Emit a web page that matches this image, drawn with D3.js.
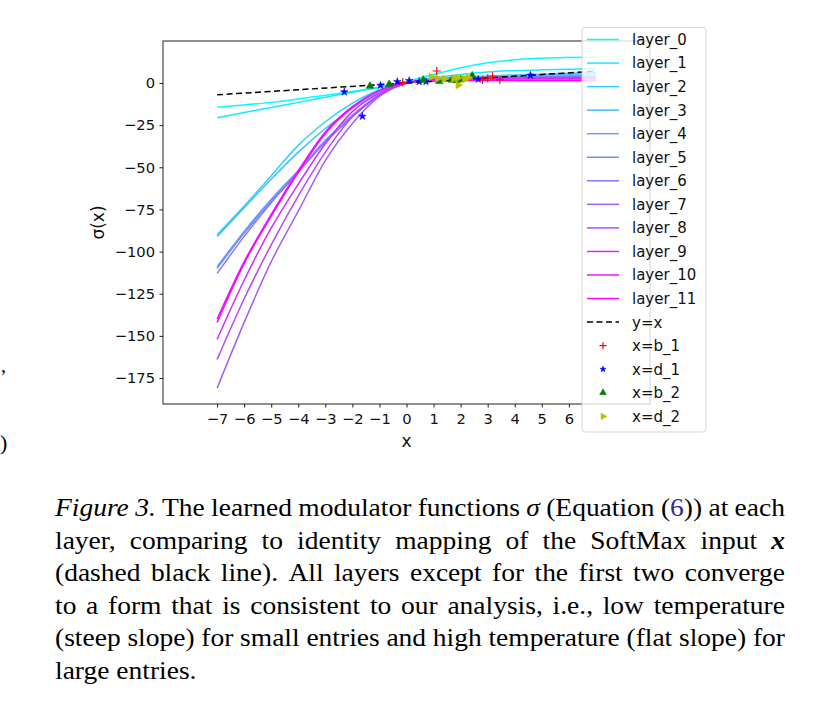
<!DOCTYPE html>
<html><head><meta charset="utf-8">
<script src="https://cdn.jsdelivr.net/npm/d3@7"></script>
<style>body{margin:0;background:#fff}</style>
</head><body><svg id="c" width="814" height="720" xmlns="http://www.w3.org/2000/svg"></svg>
<script>
// ---------- data ----------
const xGrid = [-7,-6,-5,-4,-3,-2,-1,0,1,2,3,4,5,6,7];
const layer_0  = [-14.4,-13,-11.5,-9.5,-7.3,-5,-2.5,1,5,9,12,13.8,14.7,15.1,15.3];
const layer_1  = [-20.6,-17.5,-14.5,-11.5,-8.5,-5.5,-2.5,0.5,3,5,6.5,7.3,7.8,8.1,8.3];
const layer_2  = [-90,-73,-55,-37,-23,-12,-4,0.5,2.5,3.5,4.2,4.8,5.3,5.7,6];
const layer_3  = [-91,-74,-57,-41,-27,-15,-5.5,0,2,3,3.8,4.4,4.8,5.2,5.5];
const layer_4  = [-109,-88,-69,-52,-35,-20,-7,0,2,3,3.5,3.8,4,4.2,4.3];
const layer_5  = [-110,-89,-70,-52,-34,-19,-7,-0.3,1.8,2.8,3.3,3.6,3.8,4,4.1];
const layer_6  = [-113,-91,-71,-53,-35,-20,-7.5,0,2,2.7,3.1,3.4,3.6,3.7,3.8];
const layer_7  = [-181,-142,-106,-76,-46,-24,-8,0,2.2,2.8,3,3.1,3.1,3.2,3.2];
const layer_8  = [-164,-128,-96,-67,-41,-20,-7,0,2,2.5,2.7,2.8,2.8,2.9,2.9];
const layer_9  = [-152,-117,-86,-60,-36,-17,-6,0,1.8,2.3,2.5,2.6,2.6,2.6,2.6];
const layer_10 = [-140,-106,-78,-52,-29,-14,-4.5,0,1.3,1.6,1.7,1.7,1.7,1.7,1.7];
const layer_11 = [-142,-107,-79,-53,-30,-14.5,-4.5,0.3,1.2,1.4,1.4,1.4,1.3,1.3,1.3];
const layers = [layer_0,layer_1,layer_2,layer_3,layer_4,layer_5,layer_6,layer_7,layer_8,layer_9,layer_10,layer_11];
const layerNames = ["layer_0","layer_1","layer_2","layer_3","layer_4","layer_5","layer_6","layer_7","layer_8","layer_9","layer_10","layer_11"];

const identityX = [-7, 7];
const identityY = [-7, 7];

const b1X = [-0.14, 1.12, 2.81, 3.0, 3.18, 3.45];
const b1Y = [0.4, 7.1, 1.8, 2.8, 4.0, 1.8];
const d1X = [-2.30, -1.63, -0.96, -0.34, 0.10, 0.47, 0.72, 2.65, 4.58];
const d1Y = [-5.3, -19.8, -1.4, 0.8, 1.4, 0.8, 0.8, 2.2, 4.6];
const b2X = [-1.35, -0.64, 0.62, 1.21, 1.67, 1.85, 2.0, 2.43];
const b2Y = [-1.8, -0.8, 1.8, 1.0, 1.8, 1.5, 2.0, 4.3];
const d2X = [0.92, 1.15, 1.4, 1.75, 1.9, 1.91, 2.15, 2.28];
const d2Y = [3.7, 2.6, 2.4, 2.6, 3.0, -1.2, 2.6, 3.2];

const xTicks = [-7,-6,-5,-4,-3,-2,-1,0,1,2,3,4,5,6];
const yTicks = [0,-25,-50,-75,-100,-125,-150,-175];

// ---------- setup ----------
const svg = d3.select("#c");
svg.append("rect").attr("width",814).attr("height",720).attr("fill","#fff");
const SANS = "'DejaVu Sans', sans-serif";
const SERIF = "'Liberation Serif', 'Times New Roman', serif";

const X0 = 163, X1 = 650, Y0 = 41, Y1 = 404;
const x = d3.scaleLinear().domain([-9, 9]).range([X0, X1]);
const y = d3.scaleLinear().domain([-190.4, 24.9]).range([Y1, Y0]);

const coolColor = i => { const t = i / 11; return d3.rgb(Math.round(255*t), Math.round(255*(1-t)), 255).toString(); };

svg.append("clipPath").attr("id","clip").append("rect")
  .attr("x",X0).attr("y",Y0).attr("width",X1-X0).attr("height",Y1-Y0);
const plot = svg.append("g").attr("clip-path","url(#clip)");

const line = d3.line().x(d => x(d[0])).y(d => y(d[1])).curve(d3.curveMonotoneX);

layers.forEach((vals, i) => {
  plot.append("path")
    .datum(xGrid.map((xv, k) => [xv, vals[k]]))
    .attr("d", line).attr("fill","none")
    .attr("stroke", coolColor(i)).attr("stroke-width", 1.5);
});

plot.append("path")
  .datum(identityX.map((xv,k)=>[xv, identityY[k]]))
  .attr("d", d3.line().x(d=>x(d[0])).y(d=>y(d[1])))
  .attr("fill","none").attr("stroke","#000").attr("stroke-width",1.5)
  .attr("stroke-dasharray","6,3.5");

// markers
function plus(g, cx, cy, r, col) {
  g.append("path").attr("d", `M${cx-r},${cy}H${cx+r}M${cx},${cy-r}V${cy+r}`)
    .attr("stroke", col).attr("stroke-width", 1.2).attr("fill","none");
}
function sym(g, type, size, cx, cy, col, rot) {
  g.append("path").attr("d", d3.symbol().type(type).size(size)())
    .attr("transform", `translate(${cx},${cy}) rotate(${rot||0})`)
    .attr("fill", col).attr("stroke", col).attr("stroke-width", 0.5);
}
b1X.forEach((v,k) => plus(plot, x(v), y(b1Y[k]), 4, "#ff0000"));
d1X.forEach((v,k) => sym(plot, d3.symbolStar, 18, x(v), y(d1Y[k]), "#0000ff"));
b2X.forEach((v,k) => sym(plot, d3.symbolTriangle, 26, x(v), y(b2Y[k]), "#008000"));
d2X.forEach((v,k) => sym(plot, d3.symbolTriangle, 26, x(v), y(d2Y[k]), "#bfbf00", 90));

// axes
const xAxis = d3.axisBottom(x).tickValues(xTicks).tickSize(3.5).tickPadding(6);
const yAxis = d3.axisLeft(y).tickValues(yTicks).tickSize(3.5).tickPadding(4.5);
const gx = svg.append("g").attr("transform",`translate(0,${Y1})`).call(xAxis);
const gy = svg.append("g").attr("transform",`translate(${X0},0)`).call(yAxis);
[gx, gy].forEach(g => {
  g.select(".domain").remove();
  g.selectAll("line").attr("stroke","#000").attr("stroke-width",0.9);
  g.selectAll("text").attr("font-family",SANS).attr("font-size",14.7).attr("fill","#111");
});
svg.append("rect").attr("x",X0).attr("y",Y0).attr("width",X1-X0).attr("height",Y1-Y0)
  .attr("fill","none").attr("stroke","#222").attr("stroke-width",1);

svg.append("text").attr("x",(X0+X1)/2).attr("y",447).attr("text-anchor","middle")
  .attr("font-family",SANS).attr("font-size",17).attr("fill","#111").text("x");
svg.append("text").attr("transform",`translate(104,${(Y0+Y1)/2}) rotate(-90)`).attr("text-anchor","middle")
  .attr("font-family",SANS).attr("font-size",17).attr("fill","#111").text("σ(x)");

// legend
const lg = svg.append("g");
lg.append("rect").attr("x",582).attr("y",27.5).attr("width",124).attr("height",404.5).attr("rx",3)
  .attr("fill","#fff").attr("fill-opacity",0.8).attr("stroke","#ccc").attr("stroke-opacity",0.8);
const rowY = i => 39.5 + i*23.55;
const entries = layerNames.map((n,i)=>({label:n, kind:"line", color:coolColor(i)}))
  .concat([{label:"y=x", kind:"dash"},{label:"x=b_1", kind:"plus"},{label:"x=d_1", kind:"star"},
           {label:"x=b_2", kind:"tri"},{label:"x=d_2", kind:"tri90"}]);
entries.forEach((e,i) => {
  const cy = rowY(i);
  if (e.kind === "line" || e.kind === "dash") {
    lg.append("line").attr("x1",587).attr("x2",619).attr("y1",cy).attr("y2",cy)
      .attr("stroke", e.kind==="dash" ? "#000" : e.color).attr("stroke-width",1.5)
      .attr("stroke-dasharray", e.kind==="dash" ? "6,3.5" : null);
  } else if (e.kind === "plus") plus(lg, 603, cy, 3.5, "#ff0000");
  else if (e.kind === "star") sym(lg, d3.symbolStar, 12, 603, cy, "#0000ff");
  else if (e.kind === "tri") sym(lg, d3.symbolTriangle, 20, 603, cy, "#008000");
  else sym(lg, d3.symbolTriangle, 20, 603, cy, "#bfbf00", 90);
  lg.append("text").attr("x",632).attr("y",cy).attr("dy","0.36em")
    .attr("font-family",SANS).attr("font-size",15).attr("fill","#111").text(e.label);
});

// caption (justified)
const captionLines = [
  "_Figure 3._ The learned modulator functions _σ_ (Equation ({6})) at each",
  "layer, comparing to identity mapping of the SoftMax input #x#",
  "(dashed black line).  All layers except for the first two converge",
  "to a form that is consistent to our analysis, i.e., low temperature",
  "(steep slope) for small entries and high temperature (flat slope) for",
  "large entries."
];
function parseLine(s) {
  const words = []; let cur = []; let piece = ""; let st = {i:false, b:false, l:false};
  const flush = () => { if (piece) { cur.push({t:piece, i:st.i, b:st.b, l:st.l}); piece = ""; } };
  for (const ch of s) {
    if (ch === "_") { flush(); st = {...st, i:!st.i}; }
    else if (ch === "#") { flush(); st = {...st, i:!st.i, b:!st.b}; }
    else if (ch === "{") { flush(); st = {...st, l:true}; }
    else if (ch === "}") { flush(); st = {...st, l:false}; }
    else if (ch === " ") { flush(); if (cur.length) words.push(cur); cur = []; }
    else piece += ch;
  }
  flush(); if (cur.length) words.push(cur);
  return words;
}
const CX0 = 55, CX1 = 785, FS = 25;
let SX = 1.1;
captionLines.forEach((ln, li) => {
  const by = 516 + li*32.6;
  const words = parseLine(ln);
  const nodes = words.map(w => {
    const t = svg.append("text").attr("font-family",SERIF).attr("font-size",FS).attr("fill","#000");
    w.forEach(p => t.append("tspan").text(p.t)
      .attr("font-style", p.i ? "italic" : null).attr("font-weight", p.b ? "bold" : null)
      .attr("fill", p.l ? "#2a2a9a" : null));
    return t;
  });
  const raw = nodes.map(n => n.node().getComputedTextLength());
  const last = li === captionLines.length - 1;
  let sx = SX;
  const minGap = FS*0.2;
  if (!last) {
    const fitSx = (CX1 - CX0 - minGap*(nodes.length-1)) / d3.sum(raw);
    sx = Math.min(SX, fitSx);
  }
  const widths = raw.map(w => w*sx);
  const total = d3.sum(widths);
  const gap = last ? FS*0.25*sx : (CX1 - CX0 - total) / (nodes.length - 1);
  let cx = CX0;
  nodes.forEach((n,k) => {
    n.attr("transform", `translate(${cx},${by}) scale(${sx},1)`);
    cx += widths[k] + gap;
  });
});

// fragments of the neighbouring column at the left edge
svg.append("text").attr("x",1).attr("y",372).attr("font-family",SERIF).attr("font-size",20).text(",");
svg.append("text").attr("x",0).attr("y",450).attr("font-family",SERIF).attr("font-size",22).text(")");
</script>
</body></html>
